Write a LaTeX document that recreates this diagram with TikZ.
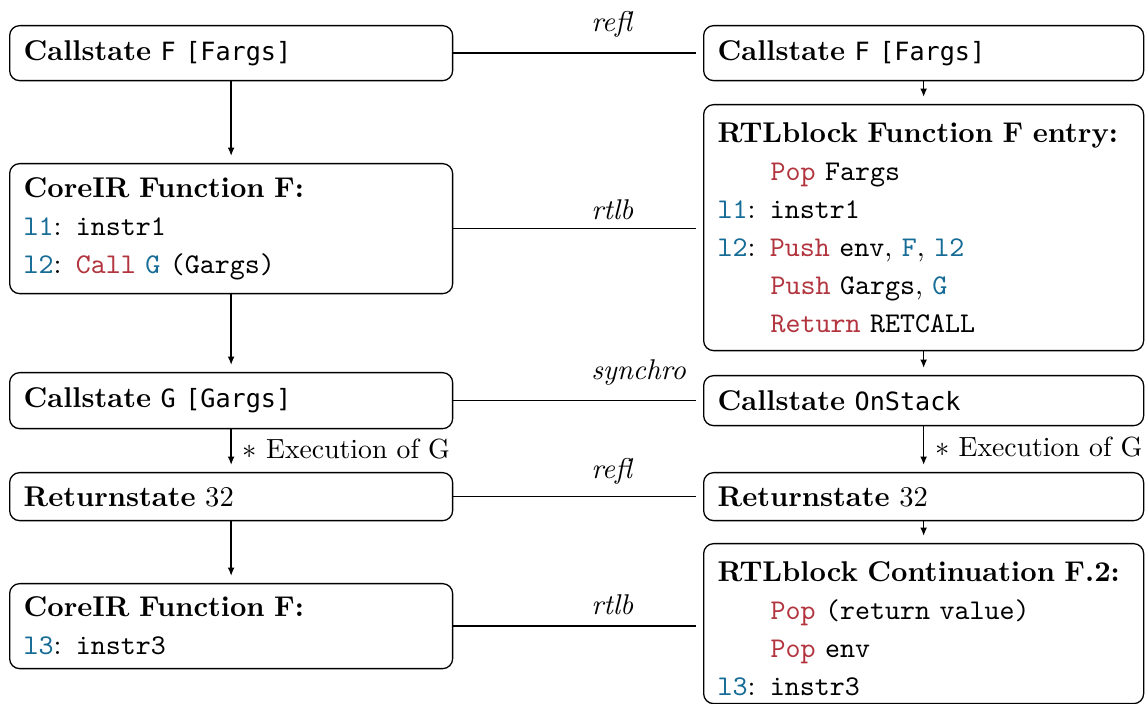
\documentclass[tikz,border=0pt]{standalone}
\usepackage{fontspec}
\setmonofont{Latin Modern Mono}
\newfontfamily\smono[Scale=0.88]{DejaVu Sans Mono}
\usetikzlibrary{arrows.meta}
\definecolor{kwred}{RGB}{178,52,62}
\definecolor{lblue}{RGB}{22,108,150}
\newcommand{\kw}[1]{\textcolor{kwred}{\texttt{#1}}}
\newcommand{\lb}[1]{\textcolor{lblue}{\texttt{#1}}}
\newcommand{\ind}{\hspace*{18.5pt}}
\begin{document}
\begin{tikzpicture}[x=0.35pt,y=-0.35pt,
  box/.style={draw, rounded corners=3.5pt, line width=0.45pt, align=left,
    anchor=north west, inner xsep=4.9pt, inner ysep=0pt,
    font=\fontsize{10}{13.3}\selectfont},
  lbox/.style={box, text width=145.25pt},
  rbox/.style={box, text width=144.2pt},
  arr/.style={-{Latex[length=2.9pt,width=2.4pt]}, line width=0.45pt, shorten >=2.5pt},
  conn/.style={line width=0.45pt, shorten >=2.4pt},
  rel/.style={font=\fontsize{10}{12}\selectfont\itshape, anchor=base west, inner sep=0pt, pos=0.55},
  exec/.style={font=\fontsize{9.7}{12}\selectfont, anchor=base west, inner sep=0pt, pos=0.5, xshift=3.8pt}]
\useasboundingbox (0,0) rectangle (1146,704);

\node[lbox, minimum height=19.25pt] (L1) at (9,25) {\textbf{Callstate} {\smono F [Fargs]}};
\node[rbox, minimum height=19.25pt] (R1) at (703,25) {\textbf{Callstate} {\smono F [Fargs]}};

\node[lbox, minimum height=45.5pt] (L2) at (9,163) {\textbf{CoreIR Function F:}\\
\lb{l1}: \texttt{instr1}\\
\lb{l2}: \kw{Call} \lb{G} \texttt{(Gargs)}};
\node[rbox, minimum height=86.1pt] (R2) at (703,104) {\textbf{RTLblock Function F entry:}\\
\ind\kw{Pop} \texttt{Fargs}\\
\lb{l1}: \texttt{instr1}\\
\lb{l2}: \kw{Push} \texttt{env}, \lb{F}, \lb{l2}\\
\ind\kw{Push} \texttt{Gargs}, \lb{G}\\
\ind\kw{Return} \texttt{RETCALL}};

\node[lbox, minimum height=19.6pt] (L3) at (9,372) {\textbf{Callstate} {\smono G [Gargs]}};
\node[rbox, minimum height=17.5pt] (R3) at (703,375) {\textbf{Callstate} {\smono OnStack}};

\node[lbox, minimum height=16.8pt] (L4) at (9,472) {\textbf{Returnstate} 32};
\node[rbox, minimum height=16.8pt] (R4) at (703,472) {\textbf{Returnstate} 32};

\node[lbox, minimum height=29.75pt] (L5) at (9,583) {\textbf{CoreIR Function F:}\\
\lb{l3}: \texttt{instr3}};
\node[rbox, minimum height=56pt] (R5) at (703,543) {\rule{0pt}{10.5pt}\textbf{RTLblock Continuation F.2:}\\
\ind\kw{Pop} \texttt{(return value)}\\
\ind\kw{Pop} \texttt{env}\\
\lb{l3}: \texttt{instr3}};

% vertical arrows
\draw[arr] (L1.south) -- (L2.north);
\draw[arr] (L2.south) -- (L3.north);
\draw[arr] (L3.south) -- node[exec, yshift=-2.8pt] (EL) {$*$ Execution of G} (L4.north);
\draw[arr] (L4.south) -- (L5.north);
\draw[arr] (R1.south) -- (R2.north);
\draw[arr] (R2.south) -- (R3.north);
\draw[arr] (R3.south) -- node[exec, yshift=-2.6pt] (ER) {$*$ Execution of G} (R4.north);
\draw[arr] (R4.south) -- (R5.north);

% horizontal relations
\draw[conn] (L1.east) -- node[rel, yshift=7.7pt] (T1) {refl} (L1.east -| R1.west);
\draw[conn] (L2.east) -- node[rel, yshift=3.15pt] (T2) {rtlb} (L2.east -| R2.west);
\draw[conn] (L3.east) -- node[rel, yshift=7.35pt] (T3) {synchro} (L3.east -| R3.west);
\draw[conn] (L4.east) -- node[rel, yshift=6.3pt] (T4) {refl} (L4.east -| R4.west);
\draw[conn] (L5.east) -- node[rel, yshift=4.2pt] (T5) {rtlb} (L5.east -| R5.west);
\end{tikzpicture}
\end{document}
